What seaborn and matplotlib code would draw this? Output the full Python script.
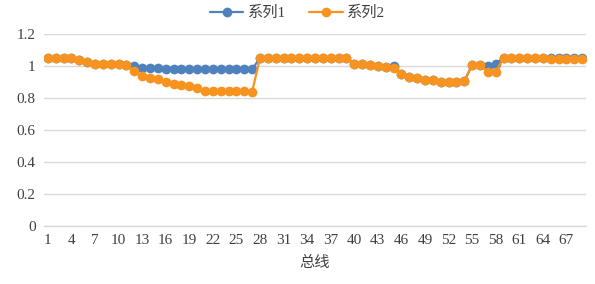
import numpy as np
import pandas as pd
import seaborn as sns
import matplotlib.pyplot as plt

# Data
bus = list(range(1, 70))
series2 = [1.05, 1.05, 1.05, 1.05, 1.04, 1.027, 1.015, 1.015, 1.015, 1.01,
           1.005, 0.97, 0.935, 0.925, 0.92, 0.90, 0.885, 0.88, 0.875, 0.865,
           0.845, 0.845, 0.845, 0.845, 0.845, 0.845, 0.84, 1.05, 1.05, 1.05,
           1.05, 1.05, 1.05, 1.05, 1.05, 1.05, 1.05, 1.05, 1.05, 1.015,
           1.012, 1.005, 1.0, 0.995, 0.99, 0.947, 0.93, 0.922, 0.915, 0.91,
           0.90, 0.90, 0.90, 0.905, 1.005, 1.005, 0.963, 0.963, 1.05, 1.05,
           1.05, 1.05, 1.05, 1.05, 1.045, 1.045, 1.045, 1.045, 1.045]
series1 = [1.05, 1.05, 1.05, 1.05, 1.04, 1.027, 1.015, 1.015, 1.015, 1.01,
           1.005, 1.0, 0.99, 0.985, 0.985, 0.98, 0.98, 0.98, 0.98, 0.98,
           0.98, 0.98, 0.98, 0.98, 0.98, 0.98, 0.98, 1.05, 1.05, 1.05,
           1.05, 1.05, 1.05, 1.05, 1.05, 1.05, 1.05, 1.05, 1.05, 1.015,
           1.012, 1.005, 1.0, 0.995, 1.0, 0.947, 0.93, 0.922, 0.915, 0.91,
           0.90, 0.90, 0.90, 0.905, 1.005, 1.005, 1.0, 1.015, 1.05, 1.05,
           1.05, 1.05, 1.05, 1.05, 1.05, 1.05, 1.05, 1.05, 1.05]
names = ["系列1", "系列2"]
xticks = list(range(1, 70, 3))
yticks = [0, 0.2, 0.4, 0.6, 0.8, 1.0, 1.2]
ytick_labels = ["0", "0.2", "0.4", "0.6", "0.8", "1", "1.2"]

df = pd.DataFrame({
    "总线": bus + bus,
    "值": series1 + series2,
    "系列": [names[0]] * len(bus) + [names[1]] * len(bus),
})

sns.set_theme(style="white")
plt.rcParams['font.family'] = ['Liberation Serif', 'Noto Sans CJK SC', 'DejaVu Sans']

fig = plt.figure(figsize=(5.95, 2.84), dpi=100)
ax = fig.add_axes([44 / 595, 1 - 226 / 284, (586 - 44) / 595, (226 - 34) / 284])

palette = {names[0]: "#4F81BD", names[1]: "#F7931E"}
sns.lineplot(data=df, x="总线", y="值", hue="系列", palette=palette,
             marker="o", markersize=7, markeredgewidth=0, linewidth=1.6,
             dashes=False, ax=ax, legend=False)

ax.set_xlim(0.5, 69.5)
ax.set_ylim(0, 1.2)
ax.set_xticks(xticks)
ax.set_xticklabels([str(t) for t in xticks], fontsize=11)
ax.set_yticks(yticks)
ax.set_yticklabels(ytick_labels, fontsize=11)
ax.yaxis.grid(True, color="#D9D9D9", linewidth=1)
ax.xaxis.grid(False)
for s in ["top", "right", "left"]:
    ax.spines[s].set_visible(False)
ax.spines["bottom"].set_color("#D9D9D9")
ax.spines["bottom"].set_linewidth(1)
ax.tick_params(axis="both", length=0, pad=6, colors="#404040")
ax.set_ylabel("")
ax.set_xlabel("总线", fontsize=11, color="#404040", labelpad=6)

from matplotlib.lines import Line2D
handles = [Line2D([0], [0], color=palette[n], marker="o", markersize=7,
                  markeredgewidth=0, linewidth=1.6) for n in names]
fig.legend(handles, names, loc="center", bbox_to_anchor=(0.5, 1 - 13 / 284),
           ncol=2, frameon=False, fontsize=11, handlelength=2.2,
           columnspacing=1.5, handletextpad=0.3,
           labelcolor="#404040")

fig.savefig("out.png", dpi=100)
